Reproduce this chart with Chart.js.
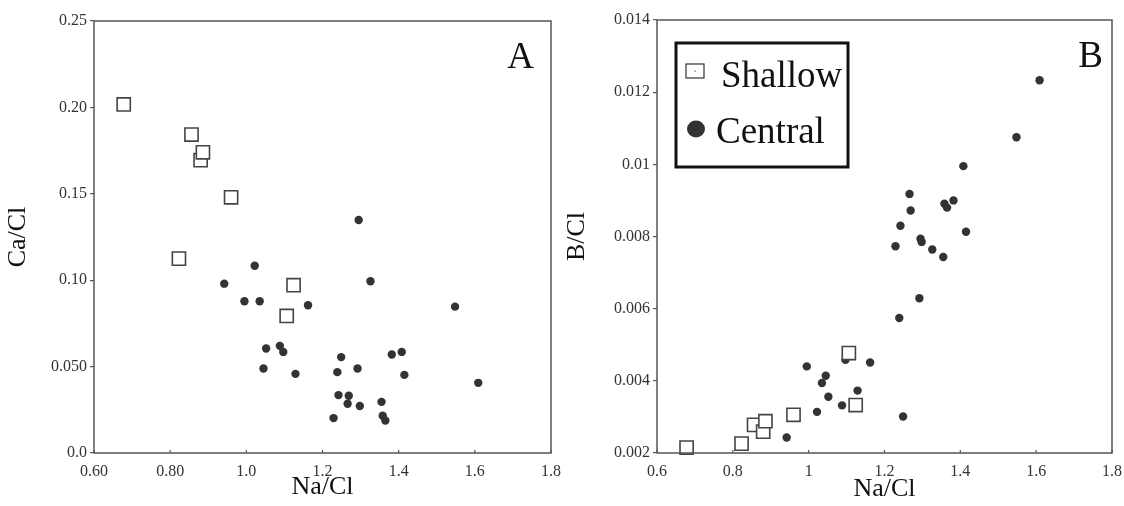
<!DOCTYPE html>
<html>
<head>
<meta charset="utf-8">
<title>Na/Cl ratios</title>
<script src="https://cdn.jsdelivr.net/npm/chart.js@4/dist/chart.umd.min.js"></script>
<style>
  html, body { margin: 0; padding: 0; background: #fff; }
  .panel { position: absolute; top: 0; width: 562px; height: 506px; }
  #panelA { left: 0; }
  #panelB { left: 562px; }
</style>
</head>
<body>
<div class="panel" id="panelA"><canvas id="chartA"></canvas></div>
<div class="panel" id="panelB"><canvas id="chartB"></canvas></div>
<script>
// shallow wells
const naClShallow = [0.678, 0.823, 0.856, 0.880, 0.886, 0.960, 1.106, 1.124];
const caClShallow = [0.2017, 0.1125, 0.1843, 0.1695, 0.1740, 0.1480, 0.0793, 0.0971];
const bClShallow = [0.00215, 0.00226, 0.00278, 0.00259, 0.00288, 0.00306, 0.00477, 0.00333];

// central wells
const naClCentral = [0.942, 0.995, 1.022, 1.035, 1.045, 1.052, 1.088, 1.097, 1.129, 1.162,
  1.229, 1.239, 1.242, 1.249, 1.266, 1.269, 1.292, 1.295, 1.298, 1.326,
  1.355, 1.358, 1.365, 1.382, 1.408, 1.415, 1.548, 1.609];
const caClCentral = [0.0980, 0.0878, 0.1084, 0.0878, 0.0489, 0.0605, 0.0620, 0.0585, 0.0458, 0.0855,
  0.0202, 0.0468, 0.0335, 0.0555, 0.0285, 0.0331, 0.0489, 0.1348, 0.0272, 0.0994,
  0.0296, 0.0216, 0.0188, 0.0570, 0.0585, 0.0452, 0.0847, 0.0406];
const bClCentral = [0.00243, 0.00440, 0.00314, 0.00394, 0.00414, 0.00356, 0.00332, 0.00458, 0.00373, 0.00451,
  0.00773, 0.00574, 0.00830, 0.00301, 0.00918, 0.00872, 0.00629, 0.00794, 0.00785, 0.00764,
  0.00743, 0.00891, 0.00880, 0.00900, 0.00995, 0.00813, 0.01075, 0.01233];

// tick values and labels
const naTicks = [0.6, 0.8, 1.0, 1.2, 1.4, 1.6, 1.8];
const naTickLabelsA = ["0.60", "0.80", "1.0", "1.2", "1.4", "1.6", "1.8"];
const naTickLabelsB = ["0.6", "0.8", "1", "1.2", "1.4", "1.6", "1.8"];
const caTicks = [0, 0.05, 0.10, 0.15, 0.20, 0.25];
const caTickLabels = ["0.0", "0.050", "0.10", "0.15", "0.20", "0.25"];
const bTicks = [0.002, 0.004, 0.006, 0.008, 0.010, 0.012, 0.014];
const bTickLabels = ["0.002", "0.004", "0.006", "0.008", "0.01", "0.012", "0.014"];

const serif = "'Liberation Serif', 'DejaVu Serif', serif";
const ink = "#333";

function points(xs, ys) {
  return xs.map((x, i) => ({ x: x, y: ys[i] }));
}

function datasets(yShallow, yCentral) {
  return [
    {
      label: "Shallow",
      data: points(naClShallow, yShallow),
      pointStyle: "rect",
      pointRadius: 9.3,
      pointBackgroundColor: "#fff",
      pointBorderColor: "#444",
      pointBorderWidth: 1.6,
      clip: false,
    },
    {
      label: "Central",
      data: points(naClCentral, yCentral),
      pointStyle: "circle",
      pointRadius: 4.2,
      pointBackgroundColor: ink,
      pointBorderColor: ink,
      pointBorderWidth: 0,
      clip: false,
    },
  ];
}

// frame, small inward x ticks, panel letter, optional legend box
const decorations = {
  id: "decorations",
  afterDatasetsDraw(chart, args, opts) {
    const { ctx, chartArea: a } = chart;
    const xs = chart.scales.x;
    ctx.save();
    ctx.strokeStyle = "#555";
    ctx.lineWidth = 1.5;
    ctx.strokeRect(a.left, a.top, a.right - a.left, a.bottom - a.top);

    ctx.lineWidth = 1.2;
    ctx.beginPath();
    xs.ticks.forEach((t) => {
      const px = xs.getPixelForValue(t.value);
      ctx.moveTo(px, a.bottom);
      ctx.lineTo(px, a.bottom - 3);
    });
    ctx.stroke();

    ctx.fillStyle = "#111";
    ctx.font = "37px " + serif;
    ctx.textAlign = "right";
    ctx.textBaseline = "alphabetic";
    ctx.fillText(opts.letter, a.right - opts.letterRight, a.top + 47);

    if (opts.legend) {
      const lx = a.left + 19, ly = a.top + 23, lw = 172, lh = 124;
      ctx.lineWidth = 3;
      ctx.strokeStyle = "#111";
      ctx.strokeRect(lx, ly, lw, lh);
      const ds = chart.data.datasets;
      ctx.font = "37px " + serif;
      ctx.textAlign = "left";
      // shallow
      ctx.lineWidth = 1.2;
      ctx.strokeStyle = "#333";
      ctx.fillStyle = "#fff";
      ctx.fillRect(lx + 10, ly + 21, 18, 14);
      ctx.strokeRect(lx + 10, ly + 21, 18, 14);
      ctx.fillStyle = "#555";
      ctx.fillRect(lx + 18.5, ly + 27.5, 1.2, 1.2);
      ctx.fillStyle = "#111";
      ctx.fillText(ds[0].label, lx + 45, ly + 44);
      // central
      ctx.fillStyle = ds[1].pointBackgroundColor;
      ctx.beginPath();
      ctx.ellipse(lx + 20, ly + 86, 9, 8.5, 0, 0, Math.PI * 2);
      ctx.fill();
      ctx.fillStyle = "#111";
      ctx.fillText(ds[1].label, lx + 40, ly + 100);
    }
    ctx.restore();
  },
};

function makeChart(id, cfg) {
  const ctx = document.getElementById(id).getContext("2d");
  return new Chart(ctx, {
    type: "scatter",
    data: { datasets: datasets(cfg.yShallow, cfg.yCentral) },
    options: {
      responsive: true,
      maintainAspectRatio: false,
      animation: false,
      layout: { padding: { top: cfg.top, right: cfg.right, left: 0, bottom: 0 } },
      plugins: {
        legend: { display: false },
        tooltip: { enabled: false },
        decorations: { letter: cfg.letter, letterRight: cfg.letterRight, legend: cfg.legend },
      },
      scales: {
        x: {
          type: "linear",
          min: 0.6,
          max: 1.8,
          afterFit: (s) => { s.height = cfg.xHeight; },
          afterBuildTicks: (s) => { s.ticks = naTicks.map((v) => ({ value: v })); },
          grid: { display: false },
          border: { display: false },
          ticks: {
            padding: 1,
            color: ink,
            font: { family: serif, size: 16 },
            maxRotation: 0,
            callback: (v, i) => cfg.xLabels[i],
          },
          title: {
            display: true,
            text: "Na/Cl",
            color: "#111",
            font: { family: serif, size: 26 },
            padding: { top: 0, bottom: cfg.xTitlePad },
          },
        },
        y: {
          type: "linear",
          min: cfg.yTicks[0],
          max: cfg.yTicks[cfg.yTicks.length - 1],
          afterFit: (s) => { s.width = cfg.yWidth; },
          afterBuildTicks: (s) => { s.ticks = cfg.yTicks.map((v) => ({ value: v })); },
          grid: { drawOnChartArea: false, drawTicks: true, tickLength: 4, color: "#555", lineWidth: 1.2 },
          border: { display: false },
          ticks: {
            padding: 3,
            color: ink,
            font: { family: serif, size: 16 },
            callback: (v, i) => cfg.yLabels[i],
          },
          title: {
            display: true,
            text: cfg.yTitle,
            color: "#111",
            font: { family: serif, size: 26 },
            padding: { top: cfg.yTitlePad, bottom: 0 },
          },
        },
      },
    },
    plugins: [decorations],
  });
}

makeChart("chartA", {
  yShallow: caClShallow,
  yCentral: caClCentral,
  yTicks: caTicks,
  yLabels: caTickLabels,
  xLabels: naTickLabelsA,
  yTitle: "Ca/Cl",
  letter: "A",
  letterRight: 17,
  legend: false,
  top: 21,
  right: 10,
  yWidth: 94,
  xHeight: 53,
  xTitlePad: 3,
  yTitlePad: 3,
});

makeChart("chartB", {
  yShallow: bClShallow,
  yCentral: bClCentral,
  yTicks: bTicks,
  yLabels: bTickLabels,
  xLabels: naTickLabelsB,
  yTitle: "B/Cl",
  letter: "B",
  letterRight: 9,
  legend: true,
  top: 20,
  right: 12,
  yWidth: 95,
  xHeight: 53,
  xTitlePad: 1,
  yTitlePad: 0,
});
</script>
</body>
</html>
